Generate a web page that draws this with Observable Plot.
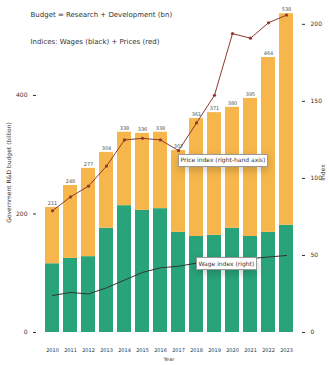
<!DOCTYPE html>
<html>
<head>
<meta charset="utf-8">
<script src="https://cdn.jsdelivr.net/npm/d3@7"></script>
<script src="https://cdn.jsdelivr.net/npm/@observablehq/plot@0.6"></script>
<style>
  html, body { margin: 0; padding: 0; background: #fff; }
  #chart svg { display: block; }
</style>
</head>
<body>
<div id="chart"></div>
<script>
// Fiscal years shown as bars
const years = ["2010","2011","2012","2013","2014","2015","2016","2017","2018","2019","2020","2021","2022","2023"];
// Budget components (billion)
const research    = [116, 125, 128, 176, 214, 206, 209, 169, 162, 164, 176, 162, 169, 181];
const development = [95, 123, 149, 128, 124, 130, 129, 138, 199, 207, 204, 233, 295, 357];
// Indices plotted against the right-hand axis
const priceIndex = [79, 88, 95, 108, 125, 126, 125, 118, 136, 154, 194, 191, 201, 206];
const wageIndex  = [24, 26, 25, 29, 34, 39, 42, 43, 45, 45, 47, 48, 49, 50];
// Axis ticks
const leftTicks  = [0, 200, 400];
const rightTicks = [0, 50, 100, 150, 200];

// right-axis units expressed in left-axis units
const K = 2.6;

const GREEN = "#29a47a";
const ORANGE = "#f6b64b";
const RED = "#8e3a32";

const rows = years.map((year, i) => ({
  year,
  research: research[i],
  development: development[i],
  total: research[i] + development[i],
  price: priceIndex[i],
  wage: wageIndex[i]
}));

const stacked = years.flatMap((year, i) => [
  {year, part: "Research", value: research[i]},
  {year, part: "Development", value: development[i]}
]);

const chart = Plot.plot({
  width: 329,
  height: 365,
  marginTop: 12,
  marginBottom: 33,
  marginLeft: 36,
  marginRight: 28,
  style: {fontFamily: "DejaVu Sans, sans-serif", fontSize: "6px", background: "#fff", color: "#333"},
  x: {domain: years, padding: 0.25},
  y: {domain: [0, 540]},
  color: {domain: ["Research", "Development"], range: [GREEN, ORANGE]},
  marks: [
    Plot.barY(stacked, {x: "year", y: "value", fill: "part", order: ["Research", "Development"]}),
    Plot.text(rows, {x: "year", y: "total", text: d => String(d.total), dy: -4, fontSize: 5, fill: "#555"}),
    Plot.line(rows, {x: "year", y: d => d.wage * K, stroke: "#333", strokeWidth: 1}),
    Plot.line(rows, {x: "year", y: d => d.price * K, stroke: RED, strokeWidth: 1}),
    Plot.dot(rows, {x: "year", y: d => d.price * K, fill: RED, r: 1.6}),
    Plot.tip([{year: "2017", v: 118}], {
      x: "year", y: d => d.v * K, title: () => "Price index (right-hand axis)",
      anchor: "top-left", pointerSize: 0, dy: 4, fontSize: 6, textPadding: 2, stroke: "#999"
    }),
    Plot.tip([{year: "2018", v: 45}], {
      x: "year", y: d => d.v * K, title: () => "Wage index (right)",
      anchor: "left", pointerSize: 0, fontSize: 6, textPadding: 2, stroke: "#999"
    }),
    Plot.text(["Budget = Research + Development (bn)"], {
      frameAnchor: "top-left", dx: -6, dy: 0, fontSize: 7, fill: "#333"
    }),
    Plot.text(["Indices: Wages (black) + Prices (red)"], {
      frameAnchor: "top-left", dx: -6, dy: 27, fontSize: 7, fill: "#333"
    }),
    Plot.axisY({
      anchor: "left", ticks: leftTicks, tickSize: 3,
      label: "Government R&D budget (billion)", labelAnchor: "center", labelArrow: false, labelOffset: 30
    }),
    Plot.axisY(rightTicks.map(v => v * K), {
      anchor: "right", tickSize: 3, tickFormat: d => String(Math.round(d / K)),
      label: "Index", labelAnchor: "center", labelArrow: false, labelOffset: 23
    }),
    Plot.axisX({
      tickSize: 0, tickPadding: 16, fontSize: 5, label: "Year", labelAnchor: "center", labelArrow: false, labelOffset: 28
    })
  ]
});

document.getElementById("chart").append(chart);
</script>
</body>
</html>
